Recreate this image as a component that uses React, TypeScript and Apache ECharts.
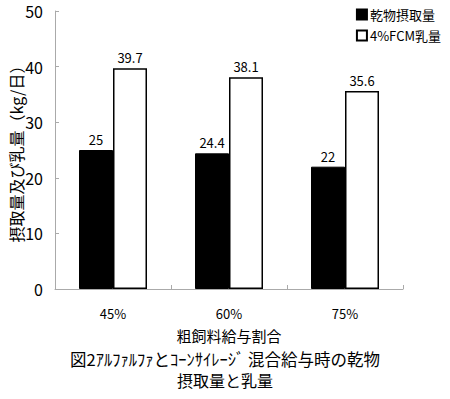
import React, { useEffect, useRef } from "react";
import * as echarts from "echarts";

const categories = ["45%", "60%", "75%"];
const dryMatterIntake = [25, 24.4, 22];
const fcmMilk = [39.7, 38.1, 35.6];
const seriesNames = ["乾物摂取量", "4%FCM乳量"];
const titleLines = ["図2ｱﾙﾌｧﾙﾌｧとｺｰﾝｻｲﾚｰｼﾞ 混合給与時の乾物", "摂取量と乳量"];
const yTicks = { min: 0, max: 50, interval: 10 };
const FONT = "'Noto Sans CJK JP', 'Noto Sans', sans-serif";

export default function App() {
  const ref = useRef<HTMLDivElement>(null);
  useEffect(() => {
    if (!ref.current) return;
    const chart = echarts.init(ref.current, null, { renderer: "svg" });
    const labelCommon = {
      show: true,
      position: "top",
      distance: 4,
      fontSize: 13,
      color: "#000",
      fontFamily: FONT,
      backgroundColor: "#fff",
      padding: [1, 2, 0, 2],
    };
    const titleStyle = (size: number) => ({
      fontSize: size,
      fontWeight: "normal",
      color: "#000",
      lineHeight: size,
      fontFamily: FONT,
    });
    chart.setOption({
      animation: false,
      backgroundColor: "#fff",
      textStyle: { fontFamily: FONT },
      title: [
        { text: titleLines[0], left: "center", top: 351, padding: 0, textStyle: titleStyle(16.5) },
        { text: titleLines[1], left: "center", top: 372, padding: 0, textStyle: titleStyle(16) },
      ],
      legend: {
        orient: "vertical",
        right: 4,
        top: 3,
        itemWidth: 10,
        itemHeight: 10,
        itemGap: 8,
        icon: "rect",
        textStyle: { fontSize: 13, color: "#000", fontFamily: FONT, padding: [0, 0, 0, -2] },
        data: seriesNames,
      },
      grid: { left: 55, right: 47, top: 11, bottom: 110, outerBoundsMode: "none", containLabel: false },
      xAxis: {
        type: "category",
        data: categories,
        name: "粗飼料給与割合",
        nameLocation: "middle",
        nameGap: 39,
        nameMoveOverlap: false,
        nameTextStyle: { fontSize: 15, color: "#000", fontFamily: FONT },
        axisLine: { lineStyle: { color: "#aaa", width: 1 } },
        axisTick: { show: true, inside: true, length: 4, lineStyle: { color: "#aaa" } },
        axisLabel: { fontSize: 13, color: "#000", margin: 18, fontFamily: FONT },
      },
      yAxis: {
        type: "value",
        min: yTicks.min,
        max: yTicks.max,
        interval: yTicks.interval,
        name: "摂取量及び乳量（kg/日）",
        nameLocation: "middle",
        nameRotate: 90,
        nameGap: 31,
        nameMoveOverlap: false,
        nameTextStyle: { fontSize: 16, color: "#000", fontFamily: FONT },
        axisLine: { show: true, lineStyle: { color: "#aaa", width: 1 } },
        axisTick: { show: true, inside: true, length: 4, lineStyle: { color: "#aaa" } },
        splitLine: { show: false },
        axisLabel: { fontSize: 16, color: "#000", margin: 12, fontFamily: FONT },
      },
      series: [
        {
          name: seriesNames[0],
          type: "bar",
          data: dryMatterIntake,
          barWidth: 34,
          barGap: "0%",
          itemStyle: { color: "#000", borderColor: "#000", borderWidth: 1 },
          label: labelCommon,
        },
        {
          name: seriesNames[1],
          type: "bar",
          data: fcmMilk,
          barWidth: 34,
          barGap: "0%",
          itemStyle: { color: "#fff", borderColor: "#000", borderWidth: 1.5 },
          label: { ...labelCommon, backgroundColor: "transparent" },
        },
      ],
    });
    return () => chart.dispose();
  }, []);
  return (
    <div
      ref={ref}
      style={{ position: "fixed", left: 0, top: 0, width: 450, height: 399 }}
    />
  );
}
